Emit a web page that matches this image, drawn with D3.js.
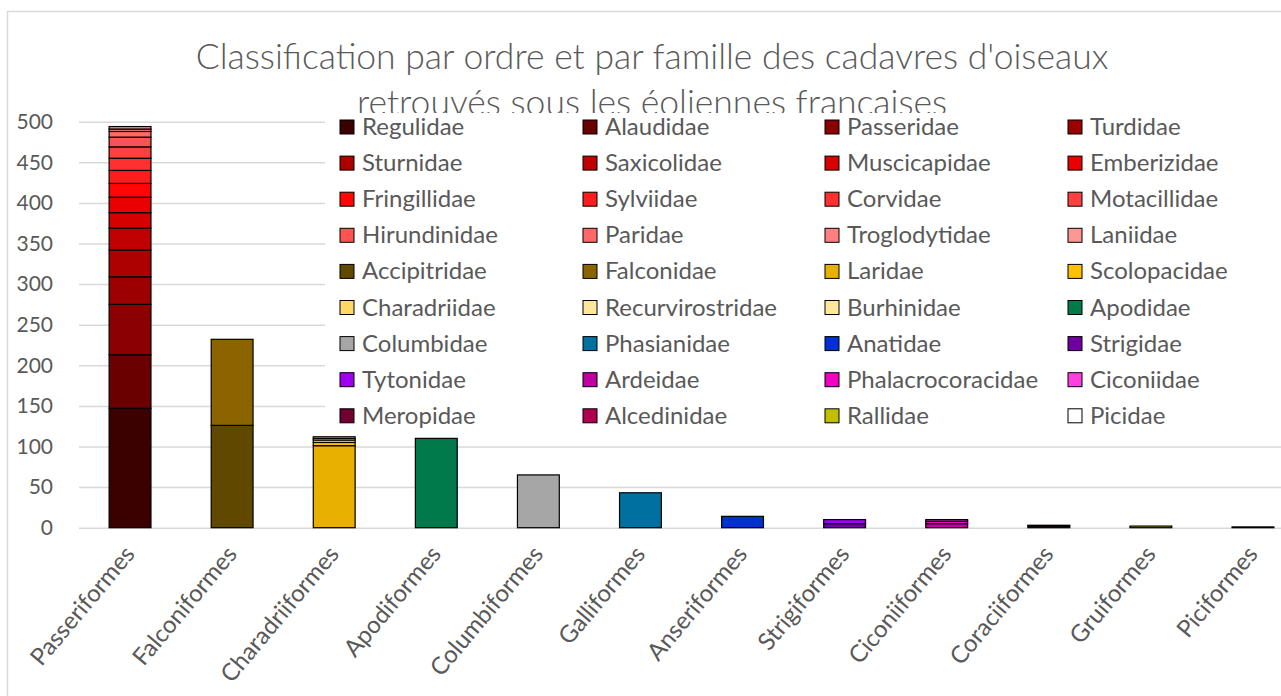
<!DOCTYPE html>
<html>
<head>
<meta charset="utf-8">
<script src="https://cdn.jsdelivr.net/npm/d3@7"></script>
<style>
  body { margin: 0; background: #fff; }
  svg { display: block; }
  text { font-family: Lato, "Open Sans", sans-serif; fill: #595959; }
</style>
</head>
<body>
<svg id="chart" width="1281" height="696"></svg>
<script>
// orders on the x axis
const orders = ["Passeriformes", "Falconiformes", "Charadriiformes", "Apodiformes", "Columbiformes",
  "Galliformes", "Anseriformes", "Strigiformes", "Ciconiiformes", "Coraciiformes", "Gruiformes", "Piciformes"];

// families, in legend order, with the order each one belongs to
const families = ["Regulidae", "Alaudidae", "Passeridae", "Turdidae", "Sturnidae", "Saxicolidae",
  "Muscicapidae", "Emberizidae", "Fringillidae", "Sylviidae", "Corvidae", "Motacillidae",
  "Hirundinidae", "Paridae", "Troglodytidae", "Laniidae", "Accipitridae", "Falconidae",
  "Laridae", "Scolopacidae", "Charadriidae", "Recurvirostridae", "Burhinidae", "Apodidae",
  "Columbidae", "Phasianidae", "Anatidae", "Strigidae", "Tytonidae", "Ardeidae",
  "Phalacrocoracidae", "Ciconiidae", "Meropidae", "Alcedinidae", "Rallidae", "Picidae"];

const familyOrder = ["Passeriformes", "Passeriformes", "Passeriformes", "Passeriformes", "Passeriformes", "Passeriformes",
  "Passeriformes", "Passeriformes", "Passeriformes", "Passeriformes", "Passeriformes", "Passeriformes",
  "Passeriformes", "Passeriformes", "Passeriformes", "Passeriformes", "Falconiformes", "Falconiformes",
  "Charadriiformes", "Charadriiformes", "Charadriiformes", "Charadriiformes", "Charadriiformes", "Apodiformes",
  "Columbiformes", "Galliformes", "Anseriformes", "Strigiformes", "Strigiformes", "Ciconiiformes",
  "Ciconiiformes", "Ciconiiformes", "Coraciiformes", "Coraciiformes", "Gruiformes", "Piciformes"];

// number of carcasses per family
const counts = [147, 66, 62, 34, 33, 27,
  19, 19, 17, 16, 15, 14,
  12, 7, 3, 3, 126, 106,
  101, 4, 3, 2, 2, 110,
  65, 43, 14, 5, 5, 5,
  3, 2, 2, 1, 2, 1];

const colors = ["#3b0000", "#6b0000", "#8b0000", "#9c0000", "#ad0000", "#c00000",
  "#d60000", "#ea0000", "#ff0505", "#ff1c1c", "#ff3030", "#ff4040",
  "#ff5252", "#ff6868", "#ff8080", "#ff9696", "#604800", "#8b6400",
  "#e8b000", "#ffc000", "#ffd966", "#ffe699", "#ffe699", "#007a4a",
  "#a6a6a6", "#0070a0", "#0030d0", "#7000a0", "#a000f0", "#c000a0",
  "#f000c0", "#ff40e0", "#700030", "#b00050", "#c0c000", "#ffffff"];

const yTicks = [0, 50, 100, 150, 200, 250, 300, 350, 400, 450, 500];

const titleLines = ["Classification par ordre et par famille des cadavres d'oiseaux",
  "retrouvés sous les éoliennes françaises"];

const svg = d3.select("#chart");

// outer chart frame (cut by the window on the right and bottom)
svg.append("rect")
  .attr("x", 7.5).attr("y", 11.5)
  .attr("width", 1400).attr("height", 800)
  .attr("fill", "#fff").attr("stroke", "#d9d9d9").attr("stroke-width", 1.5);

const x = d3.scaleBand()
  .domain(orders)
  .range([79, 1304])
  .paddingInner(0.59)
  .paddingOuter(0.295);

const y = d3.scaleLinear()
  .domain([0, 500])
  .range([527.7, 121.7]);

// title (second line is partly hidden by the legend, as in the original)
svg.append("g").selectAll("text")
  .data(titleLines)
  .join("text")
  .attr("x", 652)
  .attr("y", (d, i) => 69 + i * 46)
  .attr("text-anchor", "middle")
  .attr("font-size", 35.5)
  .attr("font-weight", 300)
  .text(d => d);

// gridlines + y labels
const yAxis = svg.append("g")
  .attr("transform", "translate(79,0)")
  .call(d3.axisLeft(y).tickValues(yTicks).tickSize(-1300).tickPadding(26));
yAxis.select(".domain").remove();
yAxis.selectAll(".tick line").attr("stroke", "#d9d9d9").attr("stroke-width", 1.5);
yAxis.selectAll(".tick text").attr("font-size", 21).attr("fill", "#595959")
  .attr("font-family", "Lato, sans-serif");

// stacked bars
const offsets = {};
const segments = families.map((f, i) => {
  const o = familyOrder[i];
  const y0 = offsets[o] || 0;
  offsets[o] = y0 + counts[i];
  return { family: f, order: o, y0: y0, y1: y0 + counts[i], color: colors[i] };
});

svg.append("g").selectAll("rect")
  .data(segments)
  .join("rect")
  .attr("x", d => x(d.order))
  .attr("width", x.bandwidth())
  .attr("y", d => y(d.y1))
  .attr("height", d => y(d.y0) - y(d.y1))
  .attr("fill", d => d.color)
  .attr("stroke", "#000")
  .attr("stroke-width", 1.2);

// x axis labels
const xAxis = svg.append("g")
  .attr("transform", "translate(0,527.7)")
  .call(d3.axisBottom(x).tickSize(0).tickPadding(0));
xAxis.select(".domain").remove();
xAxis.selectAll(".tick text")
  .attr("font-size", 24)
  .attr("fill", "#595959")
  .attr("font-family", "Lato, sans-serif")
  .attr("text-anchor", "end")
  .attr("dy", 0)
  .attr("transform", "translate(6,27) rotate(-50)");

// legend with white background
const legend = svg.append("g");
legend.append("rect")
  .attr("x", 325).attr("y", 113)
  .attr("width", 1000).attr("height", 320)
  .attr("fill", "#fff");

const colX = [340, 583, 825, 1068];
const item = legend.selectAll("g.item")
  .data(families)
  .join("g")
  .attr("class", "item")
  .attr("transform", (d, i) => `translate(${colX[i % 4]},${127 + Math.floor(i / 4) * 36.1})`);

item.append("rect")
  .attr("x", 0).attr("y", -7)
  .attr("width", 14).attr("height", 14)
  .attr("fill", (d, i) => colors[i])
  .attr("stroke", "#000").attr("stroke-width", 1);

item.append("text")
  .attr("x", 22)
  .attr("y", 8)
  .attr("font-size", 24)
  .text(d => d);
</script>
</body>
</html>
